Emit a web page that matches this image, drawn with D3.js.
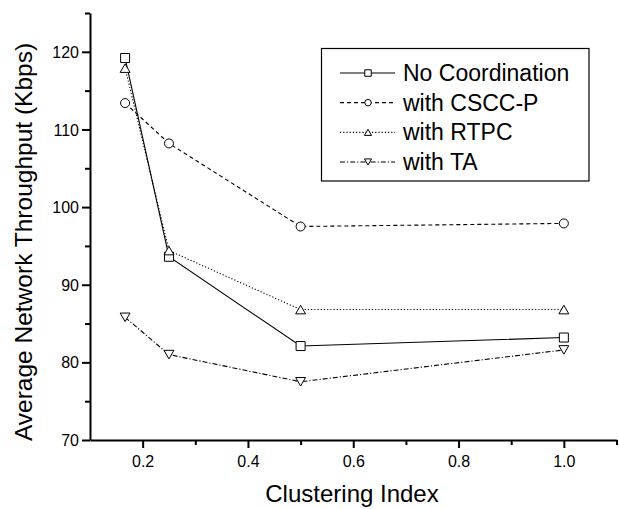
<!DOCTYPE html>
<html>
<head>
<meta charset="utf-8">
<script src="https://cdn.jsdelivr.net/npm/d3@7"></script>
<style>
    html, body { margin: 0; padding: 0; background: #fff; }
    svg { display: block; font-family: Arial, 'Liberation Sans', sans-serif; }
</style>
</head>
<body>
<svg id="js-chart-svg"></svg>
<script>
'use strict';

const clusterIndex = [1 / 6, 0.25, 0.5, 1.0];
const noCoordination = [119.2, 93.6, 82.1, 83.2];
const withCsccP = [113.4, 108.2, 97.5, 97.9];
const withRtpc = [117.9, 94.4, 86.8, 86.8];
const withTa = [85.8, 81.0, 77.5, 81.6];
const seriesNames = ['No Coordination', 'with CSCC-P', 'with RTPC', 'with TA'];
const xTicks = [0.2, 0.4, 0.6, 0.8, 1.0];
const xMinorTicks = [0.3, 0.5, 0.7, 0.9, 1.1];
const yTicks = [70, 80, 90, 100, 110, 120];
const yMinorTicks = [75, 85, 95, 105, 115, 125];

(function () {
    const d3 = window.d3;
    const width = 619;
    const height = 509;

    const x = d3.scaleLinear().domain([0.1, 1.1]).range([90, 616.5]);
    const y = d3.scaleLinear().domain([70, 125]).range([440, 13]);

    const series = [
        { name: seriesNames[0], values: noCoordination, dash: null, marker: 'square' },
        { name: seriesNames[1], values: withCsccP, dash: '4,3', marker: 'circle' },
        { name: seriesNames[2], values: withRtpc, dash: '1.2,2', marker: 'up' },
        { name: seriesNames[3], values: withTa, dash: '5,2,1.2,2', marker: 'down' }
    ];

    const svg = d3.select('#js-chart-svg')
        .attr('width', width)
        .attr('height', height);

    // axes
    const xAxis = svg.append('g')
        .attr('transform', 'translate(0,' + y.range()[0] + ')')
        .call(d3.axisBottom(x).tickValues(xTicks).tickFormat(d3.format('.1f')).tickSize(8).tickSizeOuter(0));
    svg.append('g')
        .attr('transform', 'translate(0,' + y.range()[0] + ')')
        .call(d3.axisBottom(x).tickValues(xMinorTicks).tickFormat('').tickSize(5).tickSizeOuter(0))
        .select('.domain').remove();

    const yAxis = svg.append('g')
        .attr('transform', 'translate(' + x.range()[0] + ',0)')
        .call(d3.axisLeft(y).tickValues(yTicks).tickSize(8).tickSizeOuter(0));
    svg.append('g')
        .attr('transform', 'translate(' + x.range()[0] + ',0)')
        .call(d3.axisLeft(y).tickValues(yMinorTicks).tickFormat('').tickSize(5).tickSizeOuter(0))
        .select('.domain').remove();

    svg.selectAll('.domain, .tick line')
        .attr('stroke', '#000')
        .attr('stroke-width', 2);

    xAxis.selectAll('.tick text')
        .attr('font-size', 16)
        .attr('font-family', 'Arial, Liberation Sans, sans-serif')
        .attr('fill', '#000')
        .attr('dy', 0)
        .attr('y', 27);

    yAxis.selectAll('.tick text')
        .attr('font-size', 16)
        .attr('font-family', 'Arial, Liberation Sans, sans-serif')
        .attr('fill', '#000')
        .attr('x', -11)
        .attr('dy', '0.35em');

    // axis titles
    svg.append('text')
        .attr('x', 352)
        .attr('y', 502)
        .attr('text-anchor', 'middle')
        .attr('font-size', 24)
        .text('Clustering Index');

    svg.append('text')
        .attr('transform', 'translate(32,242) rotate(-90)')
        .attr('text-anchor', 'middle')
        .attr('font-size', 24.5)
        .text('Average Network Throughput (Kbps)');

    function markerPath(type, s) {
        const h = s / 2;
        if (type === 'square') {
            return 'M' + (-h) + ',' + (-h) + 'H' + h + 'V' + h + 'H' + (-h) + 'Z';
        } else if (type === 'circle') {
            return 'M' + h + ',0A' + h + ',' + h + ' 0 1,1 ' + (-h) + ',0A' + h + ',' + h + ' 0 1,1 ' + h + ',0Z';
        } else if (type === 'up') {
            return 'M0,' + (-h * 0.95) + 'L' + (h * 1.1) + ',' + (h * 0.95) + 'L' + (-h * 1.1) + ',' + (h * 0.95) + 'Z';
        }
        return 'M0,' + (h * 0.95) + 'L' + (h * 1.1) + ',' + (-h * 0.95) + 'L' + (-h * 1.1) + ',' + (-h * 0.95) + 'Z';
    }

    const line = d3.line()
        .x((d, i) => x(clusterIndex[i]))
        .y(d => y(d));

    const plot = svg.append('g');

    plot.selectAll('.series-line')
        .data(series)
        .enter().append('path')
        .attr('class', 'series-line')
        .attr('fill', 'none')
        .attr('stroke', '#000')
        .attr('stroke-width', 1.1)
        .attr('stroke-dasharray', d => d.dash)
        .attr('d', d => line(d.values));

    series.forEach(s => {
        plot.selectAll(null)
            .data(s.values)
            .enter().append('path')
            .attr('transform', (d, i) => 'translate(' + x(clusterIndex[i]) + ',' + y(d) + ')')
            .attr('d', markerPath(s.marker, 9))
            .attr('fill', '#fff')
            .attr('stroke', '#000')
            .attr('stroke-width', 1);
    });

    // legend
    const legend = svg.append('g');
    legend.append('rect')
        .attr('x', 321.5)
        .attr('y', 48.5)
        .attr('width', 267.5)
        .attr('height', 132.5)
        .attr('fill', '#fff')
        .attr('stroke', '#000')
        .attr('stroke-width', 1.2);

    const rowY = d3.scalePoint().domain(seriesNames).range([73, 162]);

    const row = legend.selectAll('.legend-row')
        .data(series)
        .enter().append('g')
        .attr('class', 'legend-row')
        .attr('transform', d => 'translate(0,' + rowY(d.name) + ')');

    row.append('line')
        .attr('x1', 340)
        .attr('x2', 395)
        .attr('stroke', '#000')
        .attr('stroke-width', 1.1)
        .attr('stroke-dasharray', d => d.dash);

    row.append('path')
        .attr('transform', 'translate(368,0)')
        .attr('d', d => markerPath(d.marker, 6.5))
        .attr('fill', '#fff')
        .attr('stroke', '#000')
        .attr('stroke-width', 1);

    row.append('text')
        .attr('x', 403)
        .attr('dy', '0.35em')
        .attr('font-size', 23)
        .text(d => d.name);
})();
</script>
</body>
</html>
